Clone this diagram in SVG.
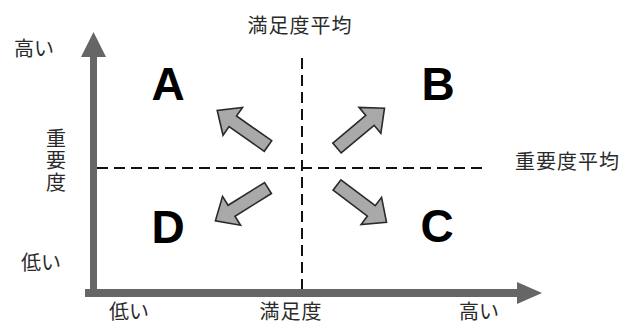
<svg xmlns="http://www.w3.org/2000/svg" width="620" height="325" viewBox="0 0 620 325">
<style>
.lbl{font-family:"Noto Sans CJK JP","Noto Sans CJK SC",sans-serif;font-size:20px;fill:#2a2a2a}
.q{font-family:"Liberation Sans",Arial,sans-serif;font-weight:bold;font-size:46px;fill:#000;text-anchor:middle}
.dash{stroke:#111;stroke-width:2;stroke-dasharray:11 6;fill:none}
.blk{fill:#a9a9a9;stroke:#2a2a2a;stroke-width:1.6;stroke-linejoin:miter}
.axis{fill:#666}
</style>
<defs>
<path id="barrow" d="M0,-6.5 L43,-6.5 L43,-17 L62,0 L43,17 L43,6.5 L0,6.5 Z"/>
</defs>
<rect width="620" height="325" fill="#fff"/>
<g id="connectors">
<line class="dash" x1="302" y1="58" x2="302" y2="290"/>
<line class="dash" x1="97" y1="168" x2="487" y2="168"/>
<rect class="axis" x="90" y="55" width="7" height="242"/>
<polygon class="axis" points="93.5,32 106,57 81,57"/>
<rect class="axis" x="85" y="289" width="434" height="8"/>
<polygon class="axis" points="542,293 517,282 517,304"/>
</g>
<g id="axis-labels">
<text class="lbl" x="300" y="33" text-anchor="middle" letter-spacing="1">満足度平均</text>
<text class="lbl" x="515" y="169" letter-spacing="1">重要度平均</text>
<text class="lbl" x="14" y="56">高い</text>
<text class="lbl" x="21" y="270">低い</text>
<text class="lbl" x="56" y="128" writing-mode="vertical-rl" letter-spacing="2">重要度</text>
<text class="lbl" x="109" y="319">低い</text>
<text class="lbl" x="291" y="319" text-anchor="middle" letter-spacing="1">満足度</text>
<text class="lbl" x="459" y="319">高い</text>
</g>
<g id="quadrant-A"><text class="q" x="168" y="100">A</text></g>
<g id="quadrant-B"><text class="q" x="438" y="100">B</text></g>
<g id="quadrant-C"><text class="q" x="437" y="242">C</text></g>
<g id="quadrant-D"><text class="q" x="168" y="243">D</text></g>
<g id="arrow-A"><use href="#barrow" class="blk" transform="translate(268,146) rotate(215)"/></g>
<g id="arrow-B"><use href="#barrow" class="blk" transform="translate(337,148) rotate(-40)"/></g>
<g id="arrow-C"><use href="#barrow" class="blk" transform="translate(337,185) rotate(37)"/></g>
<g id="arrow-D"><use href="#barrow" class="blk" transform="translate(268,188) rotate(148)"/></g>
</svg>
